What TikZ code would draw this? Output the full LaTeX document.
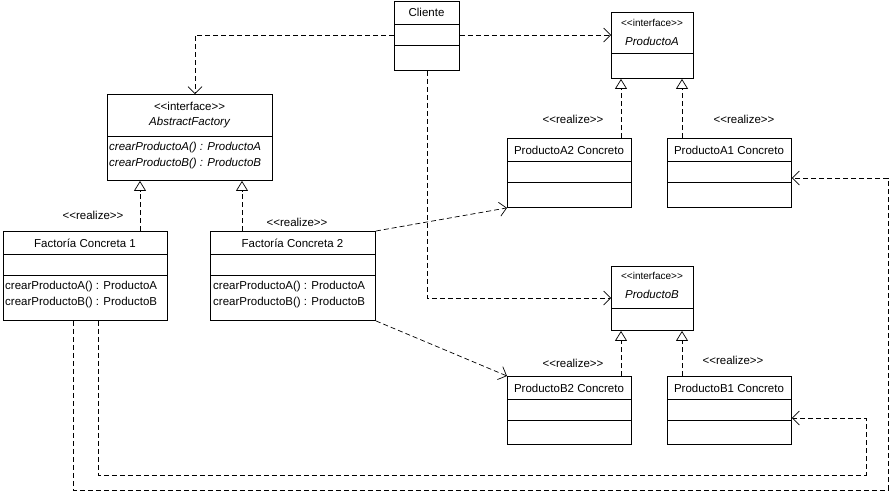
\documentclass[tikz,border=0pt]{standalone}
\usepackage{fontspec}
\setmainfont{Liberation Sans}
\usetikzlibrary{arrows.meta}
\begin{document}
\begin{tikzpicture}[x=1pt,y=-1pt,
  box/.style={draw,fill=white,line width=0.9pt,inner sep=0pt,anchor=north west},
  dl/.style={line width=0.7pt},
  dep/.style={dl,dash pattern=on 5pt off 3pt,-{Straight Barb[length=7pt,width=14pt]}},
  real/.style={dl,dash pattern=on 5pt off 3pt,-{Triangle[open,length=10pt,width=12pt,fill=white]}},
  lab/.style={font=\fontsize{11.5}{13}\selectfont,inner sep=0pt},
  ital/.style={lab,font=\fontsize{11.5}{13}\selectfont\itshape}]
\useasboundingbox (0,0) rectangle (891,491);
\newcommand{\ubox}[7]{%
  \node[box,minimum width={#4-#2},minimum height={#5-#3}] (#1) at (#2,#3) {};
  \draw[line width=0.7pt] (#2,#6) -- (#4,#6);
  \draw[line width=0.7pt] (#2,#7) -- (#4,#7);}
\ubox{cli}{394}{1}{459}{70}{24}{45}
\ubox{pa}{611}{12}{693}{78}{53}{53}
\ubox{pa2}{507}{138}{631}{207}{161}{182}
\ubox{pa1}{667}{138}{791}{207}{161}{182}
\ubox{af}{107}{94}{272}{180}{136}{136}
\ubox{f1}{3}{231}{167}{320}{254}{275}
\ubox{f2}{210}{231}{375}{320}{254}{275}
\ubox{pb}{611}{266}{693}{330}{308}{308}
\ubox{pb2}{507}{376}{631}{444}{399}{420}
\ubox{pb1}{667}{376}{791}{444}{399}{420}
\node[lab] (tcli) at (426.5,12) {Cliente};
\node[lab] (tpa1) at (652,23) {\fontsize{10}{12}\selectfont<{}<interface>{}>};
\node[ital] (tpa2) at (652,41) {ProductoA};
\node[lab] (tpb1) at (652,276) {\fontsize{10}{12}\selectfont<{}<interface>{}>};
\node[ital] (tpb2) at (652,294) {ProductoB};
\node[lab] (tpa2c) at (569,150) {ProductoA2 Concreto};
\node[lab] (tpa1c) at (729,150) {ProductoA1 Concreto};
\node[lab] (tpb2c) at (569,388) {ProductoB2 Concreto};
\node[lab] (tpb1c) at (729,388) {ProductoB1 Concreto};
\node[lab] (taf1) at (189.5,106) {<{}<interface>{}>};
\node[ital] (taf2) at (189.5,123) {AbstractFactory};
\node[ital,anchor=west] (taf3) at (109,148) {crearProductoA() : ProductoA};
\node[ital,anchor=west] (taf4) at (109,164) {crearProductoB() : ProductoB};
\node[lab] (tf1) at (85,243) {Factoría Concreta 1};
\node[lab,anchor=west] (tf1a) at (5,287) {crearProductoA() : ProductoA};
\node[lab,anchor=west] (tf1b) at (5,303) {crearProductoB() : ProductoB};
\node[lab] (tf2) at (292.5,243) {Factoría Concreta 2};
\node[lab,anchor=west] (tf2a) at (213,287) {crearProductoA() : ProductoA};
\node[lab,anchor=west] (tf2b) at (213,303) {crearProductoB() : ProductoB};
\node[lab] (r1) at (93,215) {<{}<realize>{}>};
\node[lab] (r2) at (297,222) {<{}<realize>{}>};
\node[lab] (r3) at (573,119) {<{}<realize>{}>};
\node[lab] (r4) at (744,119) {<{}<realize>{}>};
\node[lab] (r5) at (573,363) {<{}<realize>{}>};
\node[lab] (r6) at (733,360) {<{}<realize>{}>};
% dependencies
\draw[dep] (cli.west |- 0,35) -- (195,35) -- (af.north -| 195,0);
\draw[dep] (cli.east |- 0,35) -- (pa.west |- 0,35);
\draw[dep] (cli.south -| 427,0) -- (427,298) -- (pb.west |- 0,298);
\draw[dep] (f2.north east) -- (pa2.south west);
\draw[dep] (f2.south east) -- (pb2.north west);
\draw[dep] (f1.south -| 73,0) -- (73,490) -- (888,490) -- (888,178) -- (pa1.east |- 0,178);
\draw[dep] (f1.south -| 98,0) -- (98,475) -- (866,475) -- (866,418) -- (pb1.east |- 0,418);
% realizations
\draw[real] (f1.north -| 140,0) -- (af.south -| 140,0);
\draw[real] (f2.north -| 242,0) -- (af.south -| 242,0);
\draw[real] (pa2.north -| 621,0) -- (pa.south -| 621,0);
\draw[real] (pa1.north -| 682,0) -- (pa.south -| 682,0);
\draw[real] (pb2.north -| 621,0) -- (pb.south -| 621,0);
\draw[real] (pb1.north -| 682,0) -- (pb.south -| 682,0);
\end{tikzpicture}
\end{document}
